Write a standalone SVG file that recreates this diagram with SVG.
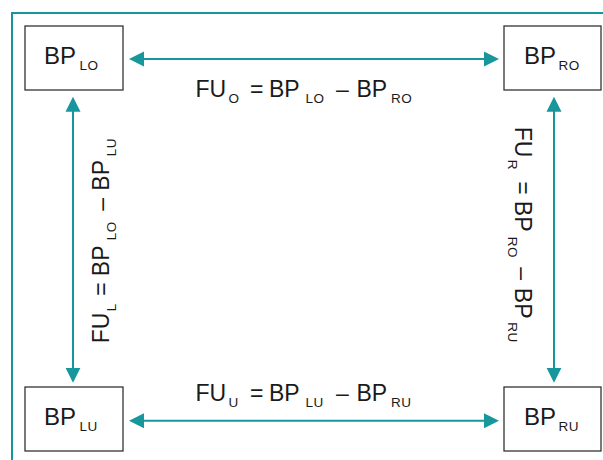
<svg xmlns="http://www.w3.org/2000/svg" width="603" height="460" viewBox="0 0 603 460">
<style>
.frame{fill:none;stroke:#17969c;stroke-width:2}
.box{fill:#ffffff;stroke:#333333;stroke-width:1.3}
.arr{fill:none;stroke:#17969c;stroke-width:2;marker-start:url(#ah);marker-end:url(#ah)}
.t{font-family:"Liberation Sans",Arial,sans-serif;fill:#1a1a1a}
.bt{font-size:24px}
.lt{font-size:23px}
.s{font-size:13.5px;letter-spacing:0.5px}
</style>
<defs>
<marker id="ah" markerUnits="userSpaceOnUse" markerWidth="16" markerHeight="16" refX="5" refY="8" orient="auto-start-reverse">
<path d="M0,0.5 L15,8 L0,15.5 z" fill="#17969c"/>
</marker>
</defs>
<rect width="603" height="460" fill="#ffffff"/>
<path class="frame" d="M12,460 V13 H603"/>
<g id="connectors">
<line class="arr" x1="139" y1="59" x2="489" y2="59"/>
<line class="arr" x1="139" y1="420.7" x2="489" y2="420.7"/>
<line class="arr" x1="73" y1="106.7" x2="73" y2="372.7"/>
<line class="arr" x1="554" y1="106.7" x2="554" y2="372.7"/>
</g>
<g id="node-BP_LO">
<rect class="box" x="25" y="26" width="98" height="64"/>
<text class="t"><tspan class="bt" x="44" y="64">BP</tspan><tspan class="s" x="79.5" y="70">LO</tspan></text>
</g>
<g id="node-BP_RO">
<rect class="box" x="504" y="26" width="97" height="64"/>
<text class="t"><tspan class="bt" x="524" y="64">BP</tspan><tspan class="s" x="558.5" y="70">RO</tspan></text>
</g>
<g id="node-BP_LU">
<rect class="box" x="25" y="387" width="98" height="64"/>
<text class="t"><tspan class="bt" x="44" y="425">BP</tspan><tspan class="s" x="79.5" y="431">LU</tspan></text>
</g>
<g id="node-BP_RU">
<rect class="box" x="504" y="387" width="97" height="64"/>
<text class="t"><tspan class="bt" x="524" y="425">BP</tspan><tspan class="s" x="558.5" y="431">RU</tspan></text>
</g>
<g id="labels">
<text class="t lt"><tspan x="195.5" y="96.7">FU</tspan><tspan class="s" x="228.5" y="103">O</tspan><tspan x="250" y="96.7">=</tspan><tspan x="269" y="96.7">BP</tspan><tspan class="s" x="305.5" y="103">LO</tspan><tspan x="336" y="96.7">–</tspan><tspan x="356.5" y="96.7">BP</tspan><tspan class="s" x="391" y="103">RO</tspan></text>
<text class="t lt"><tspan x="195.5" y="400.7">FU</tspan><tspan class="s" x="228.5" y="407">U</tspan><tspan x="250" y="400.7">=</tspan><tspan x="269" y="400.7">BP</tspan><tspan class="s" x="305.5" y="407">LU</tspan><tspan x="336" y="400.7">–</tspan><tspan x="356.5" y="400.7">BP</tspan><tspan class="s" x="391" y="407">RU</tspan></text>
<text class="t lt" transform="translate(109.3,341.7) rotate(-90)"><tspan x="-1.5" y="0">FU</tspan><tspan class="s" x="30.5" y="6.5">L</tspan><tspan x="46" y="0">=</tspan><tspan x="65.5" y="0">BP</tspan><tspan class="s" x="101.5" y="6.5">LO</tspan><tspan x="131" y="0">–</tspan><tspan x="151" y="0">BP</tspan><tspan class="s" x="185.5" y="6.5">LU</tspan></text>
<text class="t lt" transform="translate(515,128.3) rotate(90)"><tspan x="-1.5" y="0">FU</tspan><tspan class="s" x="31.5" y="7">R</tspan><tspan x="53" y="0">=</tspan><tspan x="72.5" y="0">BP</tspan><tspan class="s" x="108.5" y="7">RO</tspan><tspan x="139" y="0">–</tspan><tspan x="159.5" y="0">BP</tspan><tspan class="s" x="194" y="7">RU</tspan></text>
</g>
</svg>
